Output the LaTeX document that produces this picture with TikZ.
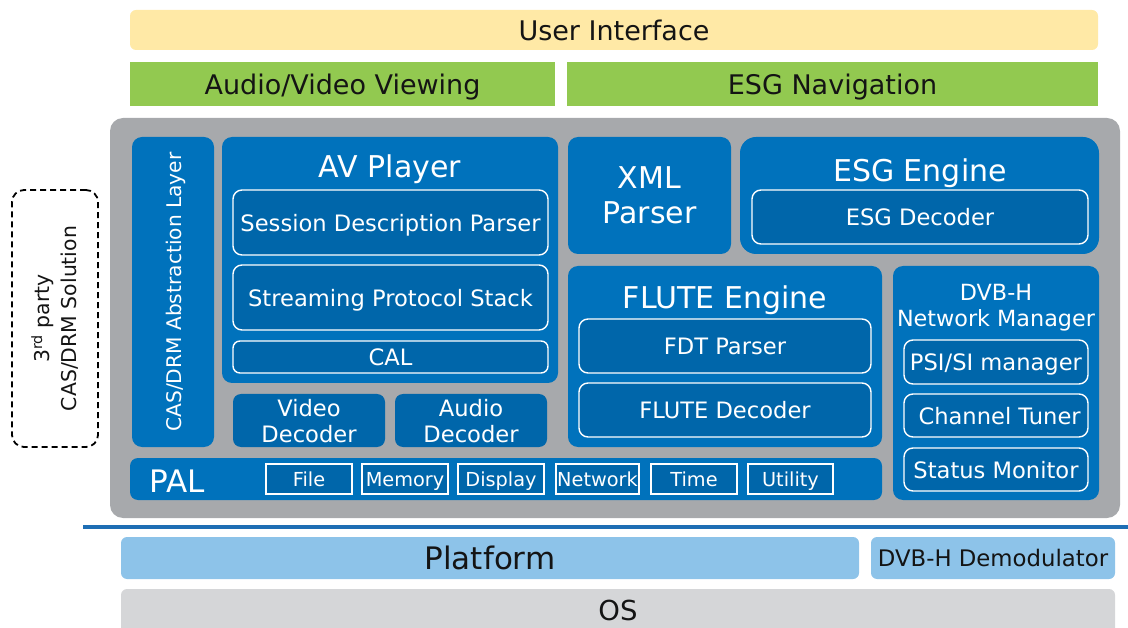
\documentclass[tikz,border=0pt]{standalone}
\usepackage{fontspec}
\setmainfont{DejaVu Sans}
\definecolor{bblue}{RGB}{0,114,188}
\definecolor{dblue}{RGB}{0,102,170}
\definecolor{cgray}{RGB}{167,169,172}
\definecolor{uiyellow}{RGB}{255,233,166}
\definecolor{ugreen}{RGB}{146,201,80}
\definecolor{lblue}{RGB}{141,195,233}
\definecolor{osgray}{RGB}{213,214,216}
\definecolor{lineblue}{RGB}{30,110,180}
\definecolor{txt}{RGB}{20,20,20}
\newcommand{\fs}[1]{\fontsize{#1}{#1}\selectfont}
\tikzset{
  box/.style={anchor=north west, inner sep=0pt, outer sep=0pt},
  outerbox/.style={box, fill=bblue, rounded corners=10pt},
  innerbox/.style={box, fill=dblue, draw=white, line width=1.4pt, rounded corners=9pt, text=white, align=center, text depth=0pt, font=\fontsize{22.6}{26}\selectfont},
  palbox/.style={box, fill=dblue, draw=white, line width=1.4pt, text=white, text depth=0pt, font=\fontsize{19.3}{20}\selectfont},
  title/.style={text=white, inner sep=0pt, align=center, text depth=0pt},
  topbar/.style={box, text=txt, text depth=0pt, font=\fontsize{27}{28}\selectfont},
}
\begin{document}
\begin{tikzpicture}[x=1pt,y=-1pt]
\useasboundingbox (0,0) rectangle (1128,628);
% top bars
\node[topbar, fill=uiyellow, rounded corners=6pt, minimum width=968pt, minimum height=40pt] (ui) at (130,10) {User Interface};
\node[topbar, fill=ugreen, minimum width=425pt, minimum height=44pt] (avv) at (130,62) {Audio/Video Viewing};
\node[topbar, fill=ugreen, minimum width=531pt, minimum height=44pt] (esgn) at (567,62) {ESG Navigation};
% gray container
\node[box, fill=cgray, rounded corners=13pt, minimum width=1010pt, minimum height=400pt] (cont) at (110,118) {};
% CAS/DRM abstraction layer
\node[outerbox, minimum width=82pt, minimum height=310pt] (cas) at (132,137) {};
\node[title, rotate=90, font=\fs{20.2}] (castxt) at ([xshift=1pt]cas.center) {CAS/DRM Abstraction Layer};
% AV Player
\node[outerbox, minimum width=336pt, minimum height=246pt] (av) at (222,137) {};
\node[title, font=\fs{30}] (avtitle) at (390,166) {AV Player};
\node[innerbox, minimum width=315pt, minimum height=65pt] (sdp) at (233,190) {Session Description Parser};
\node[innerbox, minimum width=315pt, minimum height=65pt] (sps) at (233,265) {Streaming Protocol Stack};
\node[innerbox, minimum width=315pt, minimum height=32pt, rounded corners=7pt] (cal) at (233,341) {CAL};
\node[innerbox, draw=none, minimum width=152pt, minimum height=53pt, rounded corners=8pt] (vdec) at (233,394) {Video\\Decoder};
\node[innerbox, draw=none, minimum width=152pt, minimum height=53pt, rounded corners=8pt] (adec) at (395,394) {Audio\\Decoder};
% XML parser
\node[outerbox, minimum width=163pt, minimum height=117pt, title, font=\fontsize{30}{35}\selectfont] (xml) at (568,137) {XML\\Parser};
% ESG engine
\node[outerbox, minimum width=359pt, minimum height=117pt, rounded corners=16pt] (esg) at (740,137) {};
\node[title, font=\fs{30}] (esgtitle) at (920,170) {ESG Engine};
\node[innerbox, minimum width=336pt, minimum height=54pt] (esgdec) at (752,190) {ESG Decoder};
% FLUTE engine
\node[outerbox, minimum width=314pt, minimum height=181pt] (flute) at (568,266) {};
\node[title, font=\fs{30}] (flutetitle) at (725,297) {FLUTE Engine};
\node[innerbox, minimum width=292pt, minimum height=54pt] (fdt) at (579,319) {FDT Parser};
\node[innerbox, minimum width=292pt, minimum height=54pt] (fdec) at (579,383) {FLUTE Decoder};
% DVB-H network manager
\node[outerbox, minimum width=206pt, minimum height=234pt] (dvb) at (893,266) {};
\node[title, font=\fontsize{22.3}{26}\selectfont] (dvbtitle) at (996,305) {DVB-H\\Network Manager};
\node[innerbox, minimum width=184pt, minimum height=44pt] (psi) at (904,340) {PSI/SI manager};
\node[innerbox, minimum width=184pt, minimum height=43pt] (tuner) at (904,394) {~Channel Tuner};
\node[innerbox, minimum width=184pt, minimum height=43pt] (status) at (904,448) {Status Monitor};
% PAL
\node[outerbox, minimum width=752pt, minimum height=42pt, rounded corners=8pt] (pal) at (130,458) {};
\node[title, font=\fs{31}] (paltxt) at (177,481) {PAL};
\node[palbox, minimum width=86pt, minimum height=30pt] (file) at (266,464) {File};
\node[palbox, minimum width=86pt, minimum height=30pt] (mem) at (362,464) {Memory};
\node[palbox, minimum width=86pt, minimum height=30pt] (disp) at (458,464) {Display};
\node[palbox, minimum width=83pt, minimum height=30pt] (net) at (556,464) {Network};
\node[palbox, minimum width=86pt, minimum height=30pt] (time) at (651,464) {Time};
\node[palbox, minimum width=85pt, minimum height=30pt] (util) at (748,464) {Utility};
% 3rd party
\node[box, draw=black, dash pattern=on 6pt off 4pt, line width=1.8pt, rounded corners=12pt, minimum width=86pt, minimum height=257pt] (third) at (12,190) {};
\node[rotate=90, align=center, text=txt, font=\fontsize{20.4}{27}\selectfont] (thirdtxt) at (third.center) {3\textsuperscript{rd} party\\CAS/DRM Solution};
% separator line
\coordinate (ls) at (83,527);
\coordinate (le) at (1128,527);
\draw[lineblue, line width=4pt] (ls) -- (le);
% platform and OS
\node[box, fill=lblue, rounded corners=6pt, minimum width=738pt, minimum height=42pt, text=txt, text depth=0pt, font=\fs{31}] (plat) at (121,537) {Platform};
\node[box, fill=lblue, rounded corners=6pt, minimum width=244pt, minimum height=42pt, text=txt, font=\fs{22.8}] (demod) at (871,537) {DVB-H Demodulator};
\node[box, fill=osgray, rounded corners=6pt, minimum width=994pt, minimum height=50pt] (os) at (121,589) {};
\node[text=txt, font=\fs{27.5}, inner sep=0pt] (ostxt) at (618,610) {OS};
\end{tikzpicture}
\end{document}
